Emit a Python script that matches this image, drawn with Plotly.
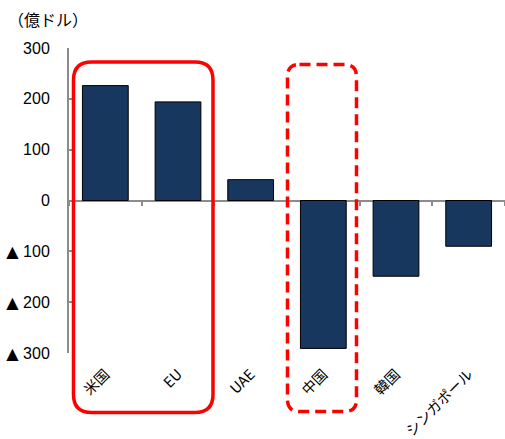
import plotly.graph_objects as go

# Data (億ドル)
categories = ["米国", "EU", "UAE", "中国", "韓国", "シンガポール"]
values = [226, 194, 41, -291, -149, -90]
y_tick_vals = [300, 200, 100, 0, -100, -200, -300]
y_tick_text = ["300", "200", "100", "0", "▲ 100", "▲ 200", "▲ 300"]

W, H = 505, 439
ML, MR, MT, MB = 69, 0, 48, 86
PW, PH = W - ML - MR, H - MT - MB

BAR_FILL = "#17375E"
AXIS_GRAY = "#8C8C8C"
NUM_FONT = "Liberation Sans, Noto Sans CJK JP"
JP_FONT = "Noto Sans CJK JP"


def px_to_paper(px, py):
    return (px - ML) / PW, (H - MB - py) / PH


def rounded_rect_path(x0, y0, x1, y1, r):
    """Rounded rectangle given in pixel coords, returned as a paper-coord SVG path."""

    def P(x, y):
        a, b = px_to_paper(x, y)
        return f"{a:.5f},{b:.5f}"

    return (
        f"M {P(x0 + r, y0)} L {P(x1 - r, y0)} Q {P(x1, y0)} {P(x1, y0 + r)} "
        f"L {P(x1, y1 - r)} Q {P(x1, y1)} {P(x1 - r, y1)} "
        f"L {P(x0 + r, y1)} Q {P(x0, y1)} {P(x0, y1 - r)} "
        f"L {P(x0, y0 + r)} Q {P(x0, y0)} {P(x0 + r, y0)} Z"
    )


def styled_tick(t):
    # larger triangle glyph for the negative-value marker
    return t.replace("▲ ", "<span style='font-family:DejaVu Sans'>▲</span>\u00a0")


fig = go.Figure()

fig.add_trace(
    go.Bar(
        x=categories,
        y=values,
        width=0.63,
        marker=dict(color=BAR_FILL, line=dict(color="#000000", width=1)),
        showlegend=False,
        hoverinfo="x+y",
    )
)

# invisible companion trace so the zero-line category axis (ticks at boundaries) renders
fig.add_trace(
    go.Scatter(
        x=categories,
        y=[0] * len(categories),
        xaxis="x2",
        mode="markers",
        marker=dict(size=0.1, opacity=0),
        showlegend=False,
        hoverinfo="skip",
    )
)

fig.update_layout(
    width=W,
    height=H,
    margin=dict(l=ML, r=MR, t=MT, b=MB, autoexpand=False),
    plot_bgcolor="white",
    paper_bgcolor="white",
    xaxis=dict(
        type="category",
        showline=False,
        showgrid=False,
        zeroline=False,
        ticks="",
        tickangle=-45,
        ticklabelstandoff=9,
        tickfont=dict(family=JP_FONT, size=14.5, color="#000000"),
        automargin=False,
    ),
    xaxis2=dict(
        type="category",
        overlaying="x",
        matches="x",
        anchor="free",
        position=0.5,
        showline=False,
        showgrid=False,
        zeroline=False,
        ticks="outside",
        tickson="boundaries",
        ticklen=4,
        tickwidth=1.5,
        tickcolor=AXIS_GRAY,
        showticklabels=False,
    ),
    yaxis=dict(
        range=[-300, 300],
        tickvals=y_tick_vals,
        ticktext=[styled_tick(t) for t in y_tick_text],
        showgrid=False,
        showline=True,
        linecolor=AXIS_GRAY,
        linewidth=2,
        ticks="inside",
        ticklen=4,
        tickwidth=1.5,
        tickcolor=AXIS_GRAY,
        ticklabelstandoff=14,
        zeroline=True,
        zerolinecolor=AXIS_GRAY,
        zerolinewidth=2,
        tickfont=dict(family=NUM_FONT, size=16, color="#000000"),
        automargin=False,
    ),
    shapes=[
        dict(
            type="path",
            xref="paper",
            yref="paper",
            path=rounded_rect_path(73.5, 62, 213, 412.5, 18),
            line=dict(color="#FF0000", width=3.5),
            layer="above",
        ),
        dict(
            type="path",
            xref="paper",
            yref="paper",
            path=rounded_rect_path(287.5, 64.5, 356.5, 411.5, 12),
            line=dict(color="#FF0000", width=3.5, dash="11px,6px"),
            layer="above",
        ),
    ],
    annotations=[
        dict(
            text="（億ドル）",
            xref="paper",
            yref="paper",
            x=px_to_paper(6, 0)[0],
            y=px_to_paper(0, 19)[1],
            xanchor="left",
            yanchor="middle",
            showarrow=False,
            font=dict(family=JP_FONT, size=16, color="#000000"),
        )
    ],
)

fig.write_html("out.html")
